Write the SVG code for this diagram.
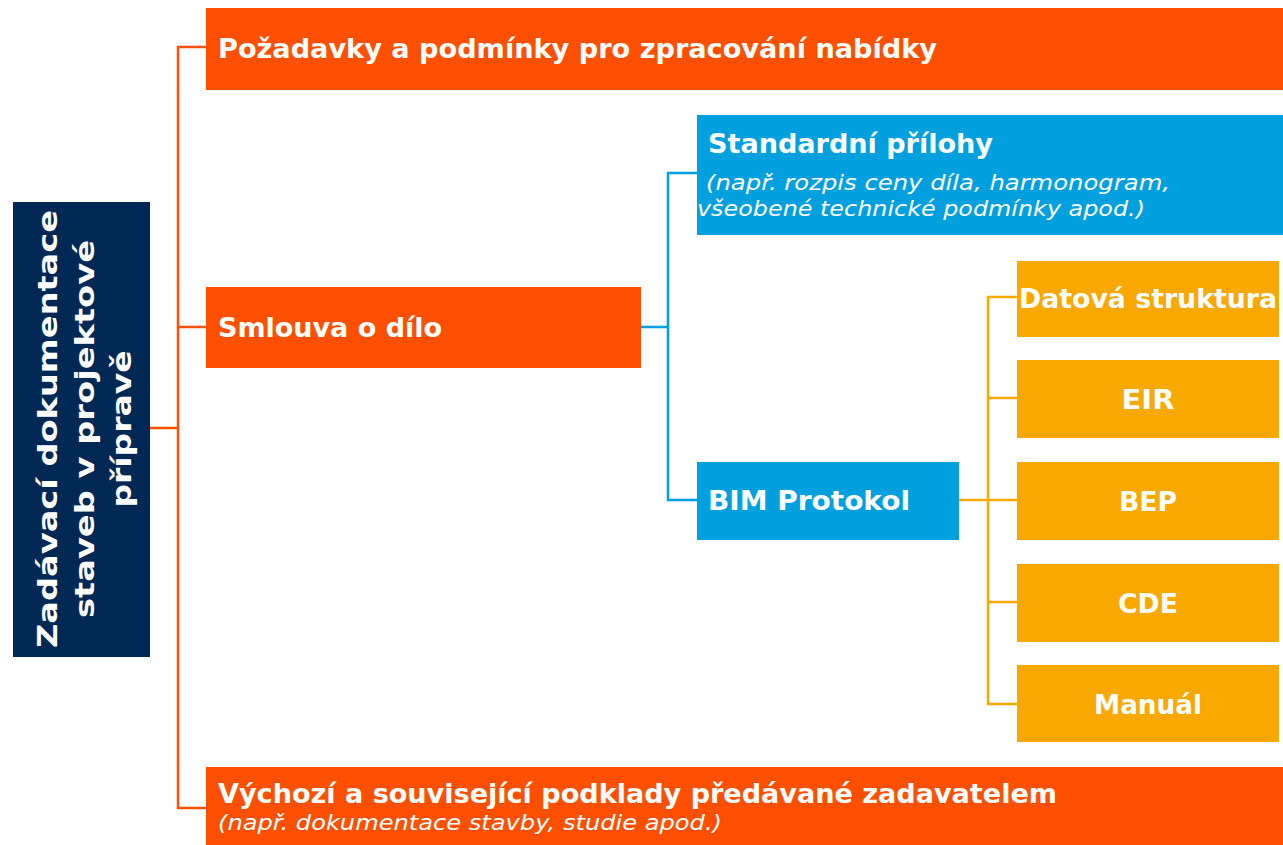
<svg xmlns="http://www.w3.org/2000/svg" width="1283" height="845" viewBox="0 0 1283 845">
<style>
.t{font-family:"DejaVu Sans","Verdana",sans-serif;fill:#fff;font-weight:bold;font-size:26px}
.i{font-family:"DejaVu Sans","Verdana",sans-serif;fill:#fff;font-style:italic;font-size:22px}
.or{fill:#FE5000}.bl{fill:#00A0DF}.ye{fill:#F9A800}.nv{fill:#002855}
.co{stroke:#FE5000;stroke-width:2.5;fill:none}
.cb{stroke:#00A0DF;stroke-width:2.5;fill:none}
.cy{stroke:#F9A800;stroke-width:2.5;fill:none}
</style>
<rect width="1283" height="845" fill="#fff"/>
<g id="connectors">
<path class="co" d="M150 428H178M206 47H178V808H206M178 327H206"/>
<path class="cb" d="M641 327H668M697 173H668V500H697"/>
<path class="cy" d="M959 500H988M1017 297H988V704H1017M988 398H1017M988 500H1017M988 602H1017"/>
</g>
<g id="root">
<rect class="nv" x="13" y="202" width="137" height="455"/>
<text class="t" font-size="33" text-anchor="middle" transform="translate(57 429) rotate(-90)" textLength="438" lengthAdjust="spacingAndGlyphs">Zadávací dokumentace</text>
<text class="t" font-size="33" text-anchor="middle" transform="translate(94 429) rotate(-90)" textLength="378" lengthAdjust="spacingAndGlyphs">staveb v projektové</text>
<text class="t" font-size="33" text-anchor="middle" transform="translate(131 429) rotate(-90)" textLength="157" lengthAdjust="spacingAndGlyphs">přípravě</text>
</g>
<g id="pozadavky">
<rect class="or" x="206" y="8" width="1077" height="82"/>
<text class="t" x="218" y="58" textLength="719" lengthAdjust="spacingAndGlyphs">Požadavky a podmínky pro zpracování nabídky</text>
</g>
<g id="smlouva">
<rect class="or" x="206" y="287" width="435" height="81"/>
<text class="t" x="218" y="337" textLength="224" lengthAdjust="spacingAndGlyphs">Smlouva o dílo</text>
</g>
<g id="standardni">
<rect class="bl" x="697" y="115" width="586" height="120"/>
<text class="t" x="708" y="153" textLength="285" lengthAdjust="spacingAndGlyphs">Standardní přílohy</text>
<text class="i" x="706" y="190" textLength="464" lengthAdjust="spacingAndGlyphs">(např. rozpis ceny díla, harmonogram,</text>
<text class="i" x="697" y="216" textLength="448" lengthAdjust="spacingAndGlyphs">všeobené technické podmínky apod.)</text>
</g>
<g id="bim">
<rect class="bl" x="697" y="462" width="262" height="78"/>
<text class="t" x="708" y="510" textLength="202" lengthAdjust="spacingAndGlyphs">BIM Protokol</text>
</g>
<g id="datova">
<rect class="ye" x="1017" y="261" width="262" height="76"/>
<text class="t" x="1148" y="308" text-anchor="middle" textLength="258" lengthAdjust="spacingAndGlyphs">Datová struktura</text>
</g>
<g id="eir">
<rect class="ye" x="1017" y="360" width="262" height="78"/>
<text class="t" x="1148" y="409" text-anchor="middle" textLength="53" lengthAdjust="spacingAndGlyphs">EIR</text>
</g>
<g id="bep">
<rect class="ye" x="1017" y="462" width="262" height="78"/>
<text class="t" x="1148" y="511" text-anchor="middle" textLength="58" lengthAdjust="spacingAndGlyphs">BEP</text>
</g>
<g id="cde">
<rect class="ye" x="1017" y="564" width="262" height="78"/>
<text class="t" x="1148" y="613" text-anchor="middle" textLength="60" lengthAdjust="spacingAndGlyphs">CDE</text>
</g>
<g id="manual">
<rect class="ye" x="1017" y="665" width="262" height="77"/>
<text class="t" x="1148" y="714" text-anchor="middle" textLength="108" lengthAdjust="spacingAndGlyphs">Manuál</text>
</g>
<g id="vychozi">
<rect class="or" x="206" y="767" width="1077" height="78"/>
<text class="t" x="218" y="803" textLength="839" lengthAdjust="spacingAndGlyphs">Výchozí a související podklady předávané zadavatelem</text>
<text class="i" x="218" y="830" textLength="504" lengthAdjust="spacingAndGlyphs">(např. dokumentace stavby, studie apod.)</text>
</g>
</svg>
